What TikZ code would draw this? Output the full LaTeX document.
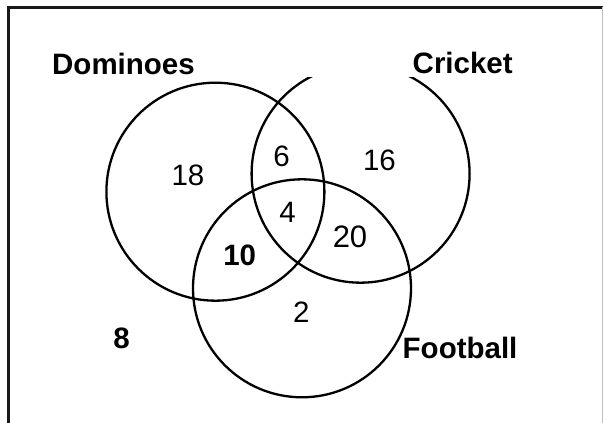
\documentclass[tikz,border=0pt]{standalone}
\usepackage{fontspec}
\setmainfont{Liberation Sans}
\begin{document}
\begin{tikzpicture}[x=1pt,y=1pt,
  venn/.style={draw=black, circle, minimum size=218pt, inner sep=0pt, line width=2.3pt},
  setlabel/.style={inner sep=0pt, anchor=base west, font=\fontsize{29.5}{31}\selectfont\bfseries},
  num/.style={inner sep=0pt, font=\fontsize{29.5}{31}\selectfont},
  bnum/.style={inner sep=0pt, font=\fontsize{29.5}{31}\selectfont\bfseries},
  frameline/.style={line width=2.2pt, black!90}]
\useasboundingbox (0,0) rectangle (603,423);
\fill[white] (0,0) rectangle (603,423);
% frame
\coordinate (fbl) at (8.5,0);
\coordinate (ftl) at (8.5,415.5);
\coordinate (ftr) at (603,415.5);
\coordinate (frt) at (602.2,415.5);
\coordinate (frb) at (602.2,0);
\draw[frameline] (fbl) -- (ftl) -- (ftr);
\draw[black!25, line width=0.6pt] (frt) -- (frb);
% circles
\node[venn] (D) at (215.4,231.3) {};
\node[venn] (F) at (302,134.7) {};
\begin{scope}
\clip (0,0) rectangle (603,345.7);
\node[venn] (C) at (360.6,249.3) {};
\end{scope}
% set labels
\node[setlabel] (lD) at (52,348) {Dominoes};
\node[setlabel] (lC) at (412.5,349.7) {Cricket};
\node[setlabel] (lF) at (402.5,64.7) {Football};
% region numbers
\node[num] (n18) at (188,247.5) {18};
\node[num] (n6) at (281.5,267) {6};
\node[num] (n16) at (379.5,262.7) {16};
\node[num] (n4) at (287.5,210.5) {4};
\node[num, font=\fontsize{31}{33}\selectfont] (n20) at (350,186) {20};
\node[bnum] (n10) at (239.7,168) {10};
\node[num] (n2) at (301.3,110.5) {2};
\node[bnum] (n8) at (121.7,84.7) {8};
\end{tikzpicture}
\end{document}
